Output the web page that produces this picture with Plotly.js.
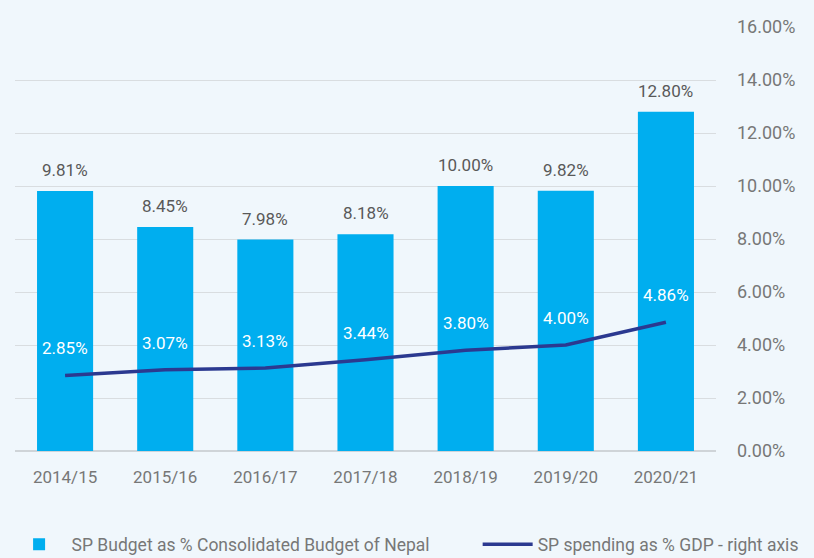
<!DOCTYPE html>
<html><head><meta charset="utf-8">
<script src="https://cdn.plot.ly/plotly-3.0.1.min.js"></script>
<style>html,body{margin:0;padding:0;background:#f0f7fc;}</style>
</head><body><div id="chart" style="width:814px;height:558px;"></div>
<script>
const categories = ["2014/15","2015/16","2016/17","2017/18","2018/19","2019/20","2020/21"];
const budgetShare = [9.81, 8.45, 7.98, 8.18, 10.00, 9.82, 12.80];
const gdpShare = [2.85, 3.07, 3.13, 3.44, 3.80, 4.00, 4.86];
const tickVals = [0,2,4,6,8,10,12,14,16];
const tickText = ["0.00%","2.00%","4.00%","6.00%","8.00%","10.00%","12.00%","14.00%","16.00%"];
const seriesNames = ["SP Budget as % Consolidated Budget of Nepal","SP spending as % GDP - right axis"];

const traces = [
  {type:"bar", x:categories, y:budgetShare, name:seriesNames[0],
   marker:{color:"#00aeef"}, hoverinfo:"none", legend:"legend"},
  {type:"scatter", mode:"lines", x:categories, y:gdpShare, name:seriesNames[1],
   line:{color:"#2b3990", width:3.5}, hoverinfo:"none", legend:"legend2"}
];
const annotations = [];
categories.forEach((c,i)=>{
  annotations.push({x:c, y:budgetShare[i], text:budgetShare[i].toFixed(2)+"%", showarrow:false,
    yshift:21, font:{size:17, color:"#595959", family:"Roboto"}});
  annotations.push({x:c, y:gdpShare[i], text:gdpShare[i].toFixed(2)+"%", showarrow:false,
    yshift:27, font:{size:17, color:"#ffffff", family:"Roboto"}});
});
const legendFont = {size:17.5, color:"#777777", family:"Roboto"};
const layout = {
  width:814, height:558,
  paper_bgcolor:"#f0f7fc", plot_bgcolor:"#f0f7fc",
  margin:{l:15, r:98, t:27, b:107, autoexpand:false},
  font:{family:"Roboto", color:"#777777", size:17},
  bargap:0.44,
  showlegend:true,
  legend:{orientation:"h", x:-0.012, xanchor:"left", y:-0.22, yanchor:"middle",
    font:legendFont, itemwidth:55, bgcolor:"rgba(0,0,0,0)"},
  legend2:{orientation:"h", x:0.66, xanchor:"left", y:-0.22, yanchor:"middle",
    font:legendFont, itemwidth:50, bgcolor:"rgba(0,0,0,0)"},
  xaxis:{type:"category", showgrid:false, zeroline:false, showline:false,
    ticks:"", tickfont:{size:17, color:"#777777"}, ticklabelstandoff:14},
  yaxis:{side:"right", range:[0,16], tickvals:tickVals, ticktext:tickText,
    showgrid:true, gridcolor:"#d9dde0", gridwidth:1, zeroline:true, zerolinecolor:"#cfd4d8",
    zerolinewidth:1.5, showline:false, ticks:"", ticklabelstandoff:20,
    tickfont:{size:18, color:"#777777"}},
  annotations:annotations
};
Plotly.newPlot("chart", traces, layout, {displayModeBar:false, staticPlot:true});
</script></body></html>
